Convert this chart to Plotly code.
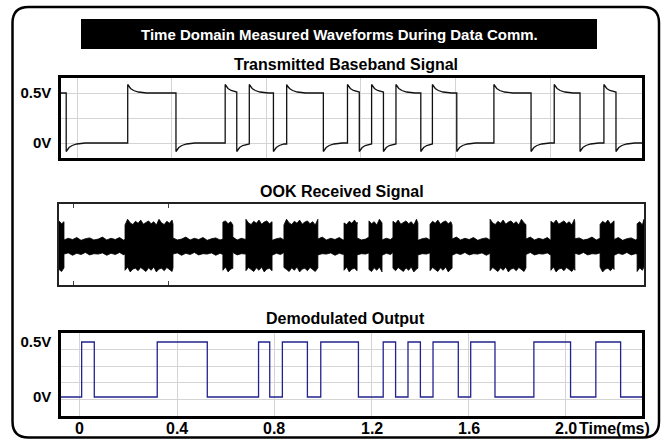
import plotly.graph_objects as go

W, H = 665, 440

# ---------------- data ----------------
time_ticks = [0, 0.4, 0.8, 1.2, 1.6, 2.0]
time_tick_text = ["0", "0.4", "0.8", "1.2", "1.6", "2.0"]

# Transmitted baseband signal: edge times (ms); the level toggles at every edge
tx_t_start, tx_t_end = -0.068, 2.388
tx_first_level = 0.5
tx_high, tx_low = 0.5, 0.0
tx_edges = [-0.046, 0.214, 0.418, 0.626, 0.675, 0.728, 0.830, 0.886, 1.041,
            1.143, 1.193, 1.245, 1.295, 1.348, 1.453, 1.502, 1.605, 1.762,
            1.919, 2.017, 2.126, 2.227, 2.278]
# overshoot / undershoot seen after each edge (ms after edge, V beyond level)
edge_dt = [0.0, 0.005, 0.012, 0.025, 0.045, 0.08]
edge_dv = [0.085, 0.065, 0.045, 0.025, 0.010, 0.0]

# OOK received signal: burst on / off times (ms), envelope amplitudes
ook_t_start, ook_t_end = -0.063, 2.40
ook_on = [-0.070, 0.215, 0.627, 0.724, 0.884, 1.137, 1.242, 1.343, 1.499,
          1.752, 2.008, 2.215, 2.371]
ook_off = [-0.042, 0.417, 0.669, 0.834, 1.027, 1.192, 1.297, 1.448, 1.592,
           1.903, 2.109, 2.274, 2.420]
burst_top = [0.62, 0.55, 0.60, 0.52, 0.66, 0.57, 0.53, 0.61, 0.56, 0.64, 0.54, 0.59]
burst_bottom = [0.58, 0.63, 0.54, 0.60, 0.52, 0.64, 0.57, 0.55, 0.61, 0.53]
idle_top = [0.15, 0.19, 0.16, 0.21, 0.14, 0.18, 0.20, 0.15, 0.17, 0.22]
idle_bottom = [0.20, 0.17, 0.23, 0.18, 0.21, 0.16, 0.22, 0.19]

# Demodulated output: edge times (ms); level toggles at every edge
rx_t_start, rx_t_end = -0.078, 2.313
rx_first_level = 0.0
rx_high, rx_low = 0.5, 0.0
rx_edges = [0.007, 0.059, 0.318, 0.524, 0.735, 0.781, 0.833, 0.936, 0.991,
            1.146, 1.248, 1.299, 1.350, 1.401, 1.453, 1.557, 1.608, 1.708,
            1.868, 2.019, 2.123, 2.225]

FONT = "Liberation Sans, Arial, sans-serif"

# ---------------- build traces ----------------
tx_x, tx_y = [tx_t_start], [tx_first_level]
level = tx_first_level
bounds = tx_edges + [tx_t_end]
for i, e in enumerate(tx_edges):
    tx_x.append(e)
    tx_y.append(tx_y[-1])
    level = tx_high if level == tx_low else tx_low
    sign = 1 if level == tx_high else -1
    seg_end = bounds[i + 1]
    last = level
    for dt, dv in zip(edge_dt, edge_dv):
        if e + dt < seg_end:
            last = level + sign * dv
            tx_x.append(e + dt)
            tx_y.append(last)
    tx_x.append(seg_end)
    tx_y.append(last)

# OOK envelope polygon
segs = []
t = ook_t_start
for a, b in zip(ook_on, ook_off):
    a2, b2 = max(a, ook_t_start), min(b, ook_t_end)
    if a2 > t:
        segs.append((t, a2, False))
    segs.append((a2, b2, True))
    t = b2
if t < ook_t_end:
    segs.append((t, ook_t_end, False))

up_x, up_y, lo_x, lo_y = [], [], [], []
k_bt = k_bb = k_it = k_ib = 0
for a, b, burst in segs:
    step = 0.011 if burst else 0.018
    tt = a
    while True:
        if burst:
            u = burst_top[k_bt % len(burst_top)]; k_bt += 1
            d = burst_bottom[k_bb % len(burst_bottom)]; k_bb += 1
        else:
            u = idle_top[k_it % len(idle_top)]; k_it += 1
            d = idle_bottom[k_ib % len(idle_bottom)]; k_ib += 1
        up_x.append(tt); up_y.append(u)
        lo_x.append(tt); lo_y.append(-d)
        if tt >= b:
            break
        tt = min(tt + step, b)

env_x = up_x + lo_x[::-1]
env_y = up_y + lo_y[::-1]

rx_x = [rx_t_start] + rx_edges + [rx_t_end]
rx_y = [rx_first_level]
lv = rx_first_level
for e in rx_edges:
    lv = rx_high if lv == rx_low else rx_low
    rx_y.append(lv)
rx_y.append(lv)

# ---------------- figure ----------------
fig = go.Figure()
fig.add_trace(go.Scatter(x=tx_x, y=tx_y, mode="lines", xaxis="x", yaxis="y",
                         line=dict(color="#111111", width=1.3), hoverinfo="skip"))
fig.add_trace(go.Scatter(x=env_x, y=env_y, mode="lines", fill="toself",
                         fillcolor="#000000", xaxis="x2", yaxis="y2",
                         line=dict(color="#000000", width=0.8), hoverinfo="skip"))
fig.add_trace(go.Scatter(x=rx_x, y=rx_y, mode="lines", line_shape="hv",
                         xaxis="x3", yaxis="y3",
                         line=dict(color="#23238f", width=1.3), hoverinfo="skip"))


def px_x(p):
    return p / W


def px_y(p):
    return 1 - p / H


lab_font = dict(family=FONT, size=16, color="#000000", weight="bold")
tick_font = dict(family=FONT, size=15, color="#000000", weight="bold")
xtick_font = dict(family=FONT, size=16, color="#000000", weight="bold")
grid_col = "#d4d4d4"

frame = dict(showline=True, mirror=True, linecolor="#000000", zeroline=False,
             automargin=False)

fig.update_layout(
    width=W, height=H, margin=dict(l=0, r=0, t=0, b=0, autoexpand=False),
    paper_bgcolor="white", plot_bgcolor="white", showlegend=False,
    xaxis=dict(domain=[px_x(61), px_x(642)], anchor="y", range=[tx_t_start, tx_t_end],
               tickvals=time_ticks, showticklabels=False, showgrid=True,
               gridcolor=grid_col, gridwidth=1, linewidth=2.5, **frame),
    yaxis=dict(domain=[px_y(158), px_y(78)], anchor="x", range=[-0.15, 0.65],
               tickvals=[0, 0.5], ticktext=["0V", "0.5V"], tickfont=tick_font,
               showgrid=True, gridcolor=grid_col, ticklabelstandoff=4,
               minor=dict(tickmode="array", tickvals=[0.25], showgrid=True,
                          gridcolor=grid_col),
               linewidth=2.5, **frame),
    xaxis2=dict(domain=[px_x(59), px_x(644)], anchor="y2", range=[ook_t_start, ook_t_end],
                tickvals=[0, 0.4], showticklabels=False, showgrid=False,
                ticks="inside", ticklen=4, tickcolor="#444444",
                linewidth=1.8, showline=True, mirror="allticks",
                linecolor="#222222", zeroline=False, automargin=False),
    yaxis2=dict(domain=[px_y(285), px_y(204)], anchor="x2", range=[-0.963, 1.037],
                showticklabels=False, showgrid=False, linewidth=1.8,
                showline=True, mirror=True, linecolor="#222222", zeroline=False,
                automargin=False),
    xaxis3=dict(domain=[px_x(61), px_x(642)], anchor="y3", range=[rx_t_start, rx_t_end],
                tickvals=time_ticks, showticklabels=False,
                showgrid=True, gridcolor=grid_col,
                linewidth=2.5, **frame),
    yaxis3=dict(domain=[px_y(416), px_y(333)], anchor="x3", range=[-0.173, 0.582],
                tickvals=[0, 0.5], ticktext=["0V", "0.5V"], tickfont=tick_font,
                showgrid=False, ticklabelstandoff=4,
                minor=dict(tickmode="array", tickvals=[-0.022, 0.129, 0.280, 0.431],
                           showgrid=True, gridcolor=grid_col),
                linewidth=2.5, **frame),
)

# time tick labels under the bottom panel (placed on the x3 data scale)
for tv, tt_ in zip(time_ticks, time_tick_text):
    fig.add_annotation(text=tt_, x=tv, xref="x3", y=px_y(428), yref="paper",
                       xanchor="center", yanchor="middle", showarrow=False,
                       font=xtick_font)

# outer rounded frame
x0, x1, y0, y1, r = 12.5, 659, 7, 437.5, 16
path = (f"M {px_x(x0 + r)} {px_y(y0)} L {px_x(x1 - r)} {px_y(y0)} "
        f"Q {px_x(x1)} {px_y(y0)} {px_x(x1)} {px_y(y0 + r)} "
        f"L {px_x(x1)} {px_y(y1 - r)} Q {px_x(x1)} {px_y(y1)} {px_x(x1 - r)} {px_y(y1)} "
        f"L {px_x(x0 + r)} {px_y(y1)} Q {px_x(x0)} {px_y(y1)} {px_x(x0)} {px_y(y1 - r)} "
        f"L {px_x(x0)} {px_y(y0 + r)} Q {px_x(x0)} {px_y(y0)} {px_x(x0 + r)} {px_y(y0)} Z")
fig.add_shape(type="path", path=path, xref="paper", yref="paper",
              line=dict(color="#000000", width=2.5), layer="above")
fig.add_shape(type="rect", xref="paper", yref="paper",
              x0=px_x(81), x1=px_x(597), y0=px_y(49), y1=px_y(19),
              fillcolor="#000000", line=dict(width=0), layer="below")

fig.add_annotation(text="Time Domain Measured Waveforms During Data Comm.",
                   x=px_x(339), y=px_y(34), xref="paper", yref="paper", showarrow=False,
                   xanchor="center", yanchor="middle",
                   font=dict(family=FONT, size=15, color="#ffffff", weight="bold"))
for txt, cx, cy in [("Transmitted Baseband Signal", 346, 65),
                    ("OOK Received Signal", 342, 192),
                    ("Demodulated Output", 345, 318)]:
    fig.add_annotation(text=txt, x=px_x(cx), y=px_y(cy), xref="paper", yref="paper",
                       xanchor="center", yanchor="middle",
                       showarrow=False, font=lab_font)
fig.add_annotation(text="Time(ms)", x=px_x(577), y=px_y(428), xref="paper", yref="paper",
                   xanchor="left", yanchor="middle", showarrow=False, font=xtick_font)

fig.write_html("out.html", post_script="document.body.style.margin='0';",
               config={"displayModeBar": False})
